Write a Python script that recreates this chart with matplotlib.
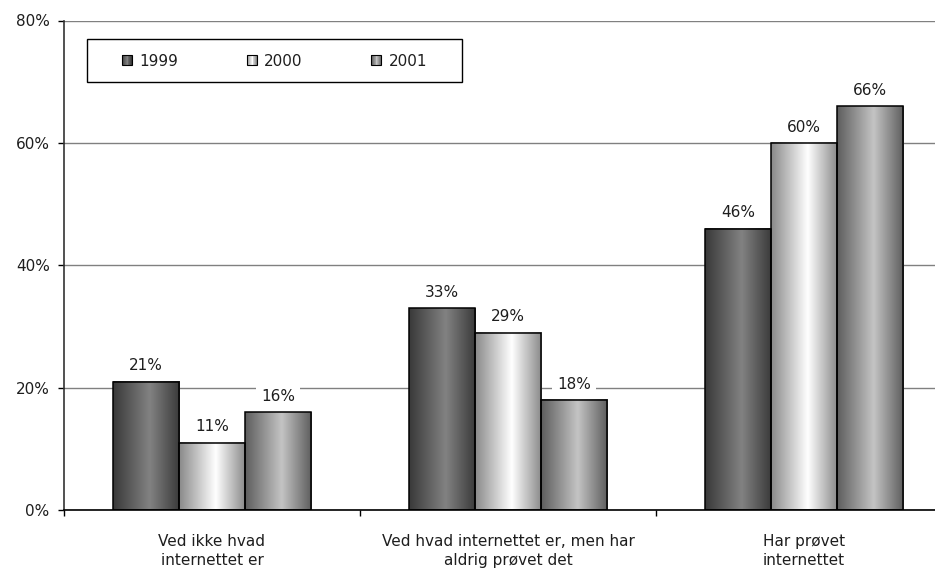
import numpy as np
import matplotlib
matplotlib.use("Agg")
import matplotlib.pyplot as plt
from matplotlib.patches import Rectangle
from matplotlib.legend_handler import HandlerBase
from matplotlib.colors import to_rgb

plt.rcParams['font.family'] = ['DejaVu Sans']

categories = ["Ved ikke hvad\ninternettet er",
              "Ved hvad internettet er, men har\naldrig prøvet det",
              "Har prøvet\ninternettet"]
years = ["1999", "2000", "2001"]
values = {
    "1999": [21, 33, 46],
    "2000": [11, 29, 60],
    "2001": [16, 18, 66],
}
yticks = [0, 20, 40, 60, 80]

# gradient (edge colour, centre colour) per series
grad = {
    "1999": ("#3a3a3a", "#828282"),
    "2000": ("#8a8a8a", "#ffffff"),
    "2001": ("#5e5e5e", "#c4c4c4"),
}
PEAK = 0.55
FS = 11
TXT = '#1e1e1e'


def grad_colors(key, n=64):
    t = np.linspace(0, 1, n)
    w = np.where(t < PEAK, t / PEAK, (1 - t) / (1 - PEAK))[:, None]
    e = np.array(to_rgb(grad[key][0]))
    c = np.array(to_rgb(grad[key][1]))
    return e * (1 - w) + c * w


W, H = 935, 571
fig = plt.figure(figsize=(W / 100, H / 100), dpi=100)
ax = fig.add_axes([64 / W, 61 / H, 888 / W, 489.5 / H])

x = np.arange(len(categories))
bw = 0.223
offsets = [-bw, 0, bw]

for yr, off in zip(years, offsets):
    img = grad_colors(yr)[None, :, :]
    for xi, v in zip(x, values[yr]):
        x0 = xi + off - bw / 2
        ax.imshow(img, extent=(x0, x0 + bw, 0, v), aspect='auto',
                  interpolation='bilinear', zorder=2)
        ax.add_patch(Rectangle((x0, 0), bw, v, fill=False,
                               edgecolor='black', linewidth=1.1, zorder=3))
        ax.annotate(f"{v}%", (xi + off, v), xytext=(0, 6),
                    textcoords='offset points', ha='center', va='bottom',
                    fontsize=FS, color=TXT, zorder=4,
                    bbox=dict(boxstyle='square,pad=0.3', fc='white', ec='none'))

ax.set_xlim(-0.5, 2.5)
ax.set_ylim(0, 80)
ax.set_yticks(yticks)
ax.set_yticklabels([f"{t}%" for t in yticks], fontsize=FS, color=TXT)
ax.set_xticks(x)
ax.set_xticklabels(categories, fontsize=FS, color=TXT, linespacing=1.4)
ax.set_xticks([-0.5, 0.5, 1.5], minor=True)
ax.tick_params(axis='x', which='major', length=0, pad=17)
ax.tick_params(axis='x', which='minor', length=4.3, width=1, color='black')
ax.tick_params(axis='y', length=4.3, width=1, color='black', pad=6)

ax.grid(axis='y', color='#808080', linewidth=1)
ax.set_axisbelow(True)
for s in ['top', 'right']:
    ax.spines[s].set_visible(False)
ax.spines['left'].set_color('#333333')
ax.spines['left'].set_linewidth(1.2)
ax.spines['bottom'].set_color('black')
ax.spines['bottom'].set_linewidth(1.2)


class GradHandler(HandlerBase):
    def __init__(self, key):
        super().__init__()
        self.key = key

    def create_artists(self, legend, orig_handle, xdescent, ydescent,
                       width, height, fontsize, trans):
        n = 12
        cols = grad_colors(self.key, n)
        s = 7.2  # points (~10 px)
        x0 = -xdescent
        y0 = -ydescent + (height - s) / 2
        arts = []
        for i in range(n):
            arts.append(Rectangle((x0 + i * s / n, y0), s / n, s,
                                  facecolor=cols[i], edgecolor='none',
                                  transform=trans))
        arts.append(Rectangle((x0, y0), s, s, fill=False, edgecolor='black',
                              linewidth=0.8, transform=trans))
        return arts


# legend frame
fig.patches.append(Rectangle((87 / W, 1 - 82 / H), 375 / W, 43 / H,
                             transform=fig.transFigure, fill=False,
                             edgecolor='black', linewidth=1, zorder=5))

fs_px = FS * 100 / 72
hl = 10 / fs_px
tp = 7.5 / fs_px
txt_w = 4 * 0.636 * fs_px
cs = (125 - 10 - 7.5 - txt_w) / fs_px

handles = [Rectangle((0, 0), 1, 1) for _ in years]
leg = ax.legend(handles, years, ncol=3,
                handler_map={h: GradHandler(yr) for h, yr in zip(handles, years)},
                loc='center left', bbox_to_anchor=(121.7 / W, 1 - 61 / H),
                bbox_transform=fig.transFigure,
                frameon=False, fontsize=FS, handlelength=hl, handleheight=0.7,
                handletextpad=tp, columnspacing=cs, borderpad=0,
                borderaxespad=0)
leg.set_zorder(6)
for t in leg.get_texts():
    t.set_color(TXT)

fig.savefig("out.png", dpi=100)
